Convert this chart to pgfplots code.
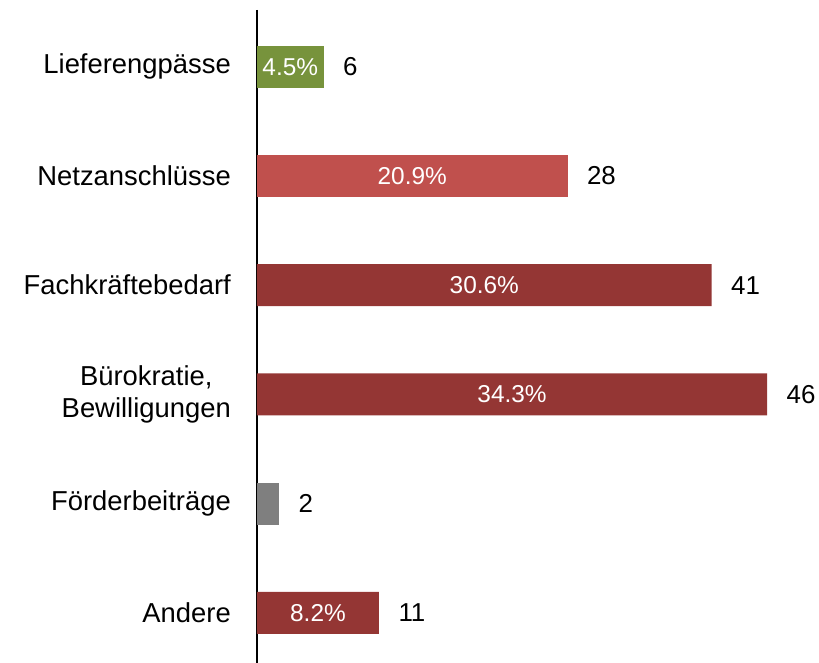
\documentclass[border=0pt]{standalone}
\usepackage{fontspec}
\setmainfont{Liberation Sans}
\usepackage{pgfplots}
\pgfplotsset{compat=1.18}
\definecolor{cgreen}{HTML}{77933C}
\definecolor{clight}{HTML}{C0504D}
\definecolor{cdark}{HTML}{943634}
\definecolor{cgray}{HTML}{7F7F7F}
\begin{document}
\begin{tikzpicture}
\useasboundingbox (-257bp,0bp) rectangle (562bp,663bp);
\begin{axis}[
  at={(0,0)}, anchor=south west,
  scale only axis,
  width=554.5bp, height=653bp,
  xmin=0, xmax=50,
  ymin=-0.52, ymax=5.46,
  y dir=reverse,
  axis x line=none,
  axis y line*=left,
  axis line style={black, line width=1.5bp},
  ytick={0,1,2,3,4,5},
  yticklabels={Lieferengpässe,Netzanschlüsse,Fachkräftebedarf,{Bürokratie,\\Bewilligungen},Förderbeiträge,Andere},
  major tick length=0pt,
  yticklabel style={font=\fontsize{27.5}{33}\selectfont, align=center, inner sep=0pt, xshift=-26bp},
  /pgf/number format/assume math mode=true,
  xbar, bar width=0.385, bar shift=0pt,
  clip=false,
  nodes near coords,
  every node near coord/.append style={font=\fontsize{26}{31}\selectfont, anchor=west, xshift=16bp, black},
]
\addplot[fill=cgreen, draw=none] coordinates {(6,0)};
\addplot[fill=clight, draw=none] coordinates {(28,1)};
\addplot[fill=cdark, draw=none] coordinates {(41,2) (46,3) (11,5)};
\addplot[fill=cgray, draw=none] coordinates {(2,4)};
% percentage labels (centred in the bars)
\addplot[draw=none, mark=none, xbar=false, nodes near coords,
  point meta=explicit symbolic,
  every node near coord/.style={font=\fontsize{24.5}{29}\selectfont, anchor=center, white, xshift=0pt}]
  table[meta=p, x expr=\thisrow{v}/2, y=y] {
v  y p
6  0 4.5\%
28 1 20.9\%
41 2 30.6\%
46 3 34.3\%
11 5 8.2\%
};
\end{axis}
\end{tikzpicture}
\end{document}
